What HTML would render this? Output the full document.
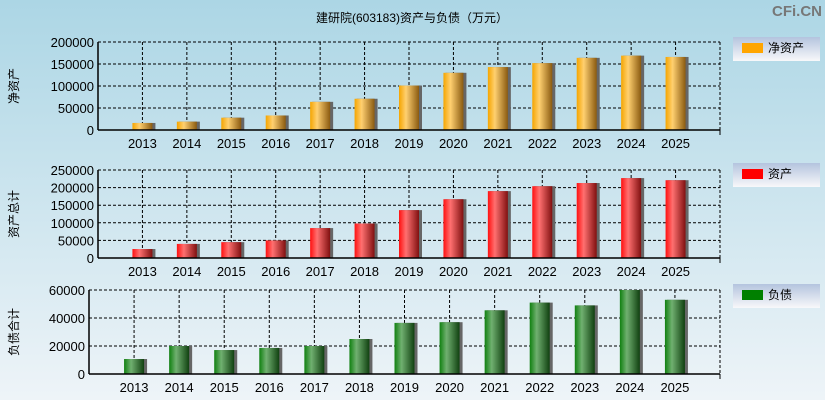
<!DOCTYPE html>
<html><head><meta charset="utf-8"><style>
body{margin:0;width:825px;height:400px;overflow:hidden;font-family:"Liberation Sans","Noto Sans CJK SC",sans-serif}
</style></head><body>
<svg id="svg" width="825" height="400" xmlns="http://www.w3.org/2000/svg" font-family="Liberation Sans, Noto Sans CJK SC, sans-serif">
<defs>
<linearGradient id="bg" x1="0" y1="0" x2="0" y2="1"><stop offset="0" stop-color="#acd6e5"/><stop offset="1" stop-color="#eef4f8"/></linearGradient>
<linearGradient id="lg" x1="0" y1="0" x2="0" y2="1"><stop offset="0" stop-color="#b4c4de"/><stop offset="1" stop-color="#f8f8fa"/></linearGradient>
<linearGradient id="g0" x1="0" x2="1"><stop offset="0" stop-color="#f5a500"/><stop offset="0.35" stop-color="#ffd070"/><stop offset="1" stop-color="#8a5a10"/></linearGradient>
<linearGradient id="g1" x1="0" x2="1"><stop offset="0" stop-color="#ff1010"/><stop offset="0.35" stop-color="#ff7070"/><stop offset="1" stop-color="#801010"/></linearGradient>
<linearGradient id="g2" x1="0" x2="1"><stop offset="0" stop-color="#108010"/><stop offset="0.35" stop-color="#70b070"/><stop offset="1" stop-color="#104010"/></linearGradient>
</defs>
<rect width="825" height="400" fill="url(#bg)"/>
<text x="412" y="22" font-size="12" text-anchor="middle">建研院(603183)资产与负债（万元）</text>
<text x="822" y="16" font-size="15" font-weight="bold" fill="#777" text-anchor="end">CFi.CN</text>
</svg>
<script>
const years=["2013","2014","2015","2016","2017","2018","2019","2020","2021","2022","2023","2024","2025"];
const netAssets=[16000,19000,28000,33000,64000,71000,101000,130000,143000,152000,164000,169000,166000];
const totalAssets=[25500,40000,45000,50000,85000,98000,136000,167000,190000,204000,213000,227000,221000];
const liabilities=[10700,20000,17100,18600,20000,25000,36500,37000,45500,51000,49000,60000,53000];
const ticks1=[0,50000,100000,150000,200000];
const ticks2=[0,50000,100000,150000,200000,250000];
const ticks3=[0,20000,40000,60000];
const NS="http://www.w3.org/2000/svg";
const svg=document.getElementById('svg');
function mk(t,a,p){const e=document.createElementNS(NS,t);for(const k in a)e.setAttribute(k,a[k]);(p||svg).appendChild(e);return e;}
const panels=[
 {name:'net-assets',vals:netAssets,ticks:ticks1,max:200000,x0:98,x1:720,y0:42,y1:130,fill:'url(#g0)',col:'#ffa500',label:'净资产',ylab:'净资产',ly:37},
 {name:'total-assets',vals:totalAssets,ticks:ticks2,max:250000,x0:98,x1:720,y0:170,y1:258,fill:'url(#g1)',col:'#ff0000',label:'资产',ylab:'资产总计',ly:163},
 {name:'liabilities',vals:liabilities,ticks:ticks3,max:60000,x0:89,x1:720,y0:290,y1:374,fill:'url(#g2)',col:'#008000',label:'负债',ylab:'负债合计',ly:284}
];
panels.forEach(p=>{
 const g=mk('g',{});
 
 
 const step=(p.x1-p.x0)/14;
 const xs=i=>p.x0+step*(i+1);
 const ys=v=>p.y1-(v/p.max)*(p.y1-p.y0);
 p.ticks.forEach(t=>{
  const y=ys(t);
  if(t>0){const l=mk('line',{x1:p.x0,x2:p.x1,y1:y,y2:y,stroke:'#000','stroke-dasharray':'3,2','stroke-width':1},g);
   
   }
  const tx=mk('text',{x:p.x0-4,y:y+5,'font-size':13,'text-anchor':'end'},g);
  tx.textContent=t;
  
  
 });
 years.forEach((yr,i)=>{
  const x=xs(i);
  const l=mk('line',{x1:x,x2:x,y1:p.y0,y2:p.y1,stroke:'#000','stroke-dasharray':'3,2'},g);
  
  
  const t=mk('text',{x:x,y:p.y1+18,'font-size':13,'text-anchor':'middle'},g);
  t.textContent=yr;
  
  
 });
 mk('line',{x1:p.x1,x2:p.x1,y1:p.y0,y2:p.y1,stroke:'#000','stroke-dasharray':'3,2'},g);
 mk('line',{x1:p.x0,x2:p.x1,y1:p.y0,y2:p.y0,stroke:'#000','stroke-dasharray':'3,2'},g);
 p.vals.forEach((v,i)=>{
  const x=xs(i),y=ys(v);
  mk('rect',{x:x-10+2,y:y,width:21,height:p.y1-y,fill:'#666'},g);
  const r=mk('rect',{x:x-10,y:y,width:20,height:p.y1-y,fill:p.fill},g);
  
  
 });
 mk('line',{x1:p.x0,x2:p.x0,y1:p.y0,y2:p.y1,stroke:'#000','stroke-width':1.5},g);
 mk('line',{x1:p.x0,x2:p.x1,y1:p.y1,y2:p.y1,stroke:'#000','stroke-width':1.5},g);
 mk('line',{x1:p.x1,x2:p.x1,y1:p.y1,y2:p.y1+5,stroke:'#000'},g);
 const yl=mk('text',{x:0,y:0,'font-size':12,'text-anchor':'middle',transform:`translate(18,${(p.y0+p.y1)/2}) rotate(-90)`},g);
 yl.textContent=p.ylab;
 
 
 const lg=mk('g',{},g);
 
 
 mk('rect',{x:733,y:p.ly,width:87,height:24,fill:'url(#lg)'},lg);
 mk('rect',{x:742,y:p.ly+6,width:21,height:10,fill:p.col},lg);
 const lt=mk('text',{x:768,y:p.ly+15,'font-size':12},lg);
 lt.textContent=p.label;
});
</script>
</body></html>
